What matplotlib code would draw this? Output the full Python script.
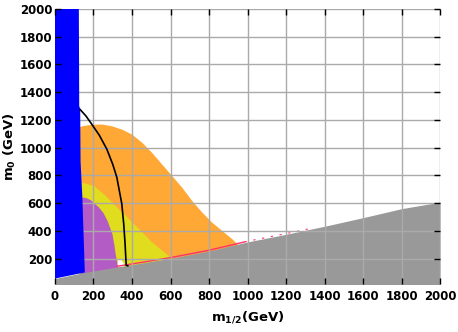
import matplotlib.pyplot as plt
import numpy as np

plt.rcParams['font.family'] = 'DejaVu Sans'
plt.rcParams['mathtext.default'] = 'regular'

# blue (excluded) strip: right edge in m1/2 for each m0
blue_m0 = [2000, 1300, 1280, 900, 650, 100, 0]
blue_edge = [124, 126, 131, 133, 142, 155, 157]

# lower-right gray region (top boundary)
gray_x = [0, 150, 324, 412, 600, 800, 1000, 1200, 1400, 1600, 1800, 2000]
gray_y = [56, 99, 140, 159, 202, 255, 320, 375, 433, 495, 560, 607]

# orange region top boundary
orange_x = [124, 139, 170, 200, 243, 295, 347, 399, 451, 502, 554, 606,
            658, 710, 762, 813, 865, 917, 952, 990]
orange_y = [1150, 1157, 1165, 1169, 1170, 1157, 1133, 1097, 1038, 966, 882,
            799, 715, 619, 536, 464, 404, 345, 297, 240]

# yellow region top boundary
yellow_x = [124, 139, 200, 252, 304, 347, 399, 451, 502, 554, 597, 640]
yellow_y = [752, 751, 727, 667, 595, 536, 464, 392, 321, 261, 213, 160]

# purple region top boundary
purple_x = [130, 145, 160, 183, 226, 250, 270, 296, 306, 312, 320, 324, 330]
purple_y = [640, 643, 640, 625, 572, 530, 476, 380, 300, 240, 180, 150, 100]

# white hole near the bottom of the black line
hole_x = [326, 327, 345, 360, 360]
hole_y = [140, 195, 190, 160, 140]

# pink line along the gray edge
pink_solid = [322, 985]
pink_dash = [985, 1330]

# black contour
black_x = [131, 160, 191, 230, 269, 300, 321, 347, 357, 364, 368, 370, 378]
black_y = [1274, 1230, 1169, 1090, 990, 880, 787, 595, 450, 309, 200, 152, 148]

ticks = list(range(0, 2001, 200))

fig = plt.figure(figsize=(4.58, 3.32), dpi=100)
ax = fig.add_axes([0.12, 0.146, 0.841, 0.827])
ax.set_xlim(0, 2000)
ax.set_ylim(20, 2000)

ax.fill_between(orange_x, 0, orange_y, color='#ffa836', lw=0, zorder=0.2)
ax.fill_between(yellow_x, 0, yellow_y, color='#e0dc1e', lw=0, zorder=0.25)
ax.fill_between(purple_x, 0, purple_y, color='#b45cc6', lw=0, zorder=0.3)
ax.fill(hole_x, hole_y, color='white', lw=0, zorder=0.32)

ax.fill_between(gray_x, 0, gray_y, color='#999999', lw=0, zorder=0.4)
px = np.linspace(pink_solid[0], pink_solid[1], 50)
ax.plot(px, np.interp(px, gray_x, gray_y) + 5, color='#ff3366',
        lw=1, zorder=0.45)
px = np.linspace(pink_dash[0], pink_dash[1], 50)
ax.plot(px, np.interp(px, gray_x, gray_y) + 5, color='#ff3366',
        lw=0.8, ls=(0, (2, 6)), zorder=0.45)

# grid under the blue strip but over the other regions
for t in ticks:
    ax.axvline(t, color='#aaaaaa', lw=1, zorder=0.5)
    ax.axhline(t, color='#aaaaaa', lw=1, zorder=0.5)

# blue strip, bottom cut by the gray edge
bx = [0, 0] + blue_edge
by = [gray_y[0], 2000] + blue_m0
bx[-1] = blue_edge[-1]
by[-1] = np.interp(blue_edge[-1], gray_x, gray_y)
ax.fill(bx, by, color='#0000ff', lw=0, zorder=0.6)

ax.plot(black_x, black_y, color='black', lw=1.2, zorder=0.7)

for s in ax.spines.values():
    s.set_visible(False)

ax.set_xticks(ticks)
ax.set_yticks(ticks[1:])
ax.tick_params(direction='in', length=4, width=1, colors='black',
               top=True, right=True, labelsize=8.5)
ax.tick_params(axis='x', pad=5)
ax.tick_params(axis='y', pad=2)
for lab in ax.get_xticklabels() + ax.get_yticklabels():
    lab.set_fontweight('bold')

ax.set_xlabel('m$_{1/2}$(GeV)', fontsize=9.5, fontweight='bold', labelpad=4)
ax.set_ylabel('m$_0$ (GeV)', fontsize=9.5, fontweight='bold', labelpad=1)

fig.savefig('out.png', dpi=100)
